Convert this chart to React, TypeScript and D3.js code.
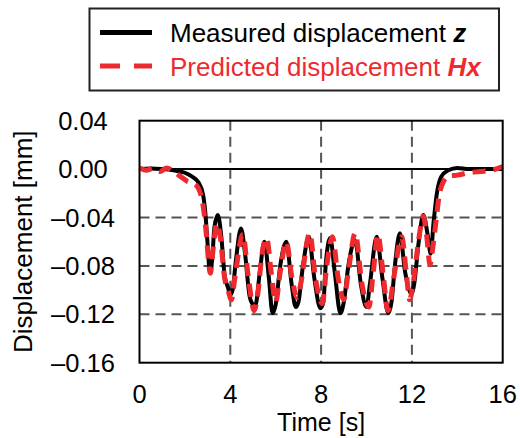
import React from "react";
import * as d3 from "d3";

const measuredT = [0, 0.5, 1.0, 1.5, 2.0, 2.3, 2.6, 2.8, 2.9, 3.0, 3.1, 3.2, 3.3, 3.45, 3.6, 3.75, 3.9, 4.0, 4.1, 4.25, 4.47, 4.65, 4.85, 5.0, 5.1, 5.3, 5.5, 5.7, 5.86, 6.0, 6.2, 6.47, 6.7, 6.88, 7.0, 7.2, 7.46, 7.7, 7.97, 8.1, 8.2, 8.4, 8.6, 8.85, 9.0, 9.2, 9.5, 9.75, 10.0, 10.15, 10.45, 10.7, 10.96, 11.1, 11.25, 11.47, 11.7, 11.98, 12.1, 12.3, 12.5, 12.7, 12.83, 12.95, 13.1, 13.3, 13.6, 14.0, 14.5, 15.0, 16.0];
const measuredV = [0.0, 0.0005, 0.0, -0.001, -0.003, -0.006, -0.011, -0.021, -0.036, -0.062, -0.085, -0.075, -0.048, -0.038, -0.055, -0.088, -0.098, -0.104, -0.1, -0.075, -0.049, -0.07, -0.105, -0.112, -0.113, -0.085, -0.06, -0.09, -0.119, -0.112, -0.08, -0.06, -0.095, -0.114, -0.11, -0.08, -0.056, -0.09, -0.115, -0.11, -0.08, -0.057, -0.085, -0.119, -0.11, -0.08, -0.059, -0.095, -0.114, -0.095, -0.056, -0.09, -0.119, -0.11, -0.08, -0.053, -0.085, -0.103, -0.095, -0.06, -0.038, -0.055, -0.07, -0.045, -0.02, -0.006, -0.001, 0.001, 0.0, 0.0, 0.0];

const predictedT = [0, 0.3, 0.6, 0.9, 1.2, 1.5, 1.8, 2.1, 2.4, 2.6, 2.8, 2.95, 3.05, 3.12, 3.25, 3.4, 3.55, 3.75, 3.9, 4.05, 4.2, 4.55, 4.8, 5.05, 5.2, 5.4, 5.6, 5.8, 6.0, 6.2, 6.47, 6.7, 6.95, 7.1, 7.5, 7.75, 8.05, 8.25, 8.5, 8.75, 9.0, 9.2, 9.5, 9.8, 10.1, 10.3, 10.5, 10.75, 10.95, 11.2, 11.55, 11.75, 11.9, 12.05, 12.3, 12.5, 12.65, 12.8, 12.92, 13.05, 13.2, 13.4, 13.6, 14.0, 14.5, 15.0, 15.5, 16.0];
const predictedV = [0.001, -0.001, 0.0005, -0.002, 0.001, -0.002, -0.006, -0.01, -0.012, -0.016, -0.03, -0.055, -0.078, -0.086, -0.065, -0.045, -0.055, -0.09, -0.1, -0.108, -0.09, -0.054, -0.09, -0.117, -0.105, -0.07, -0.057, -0.085, -0.11, -0.085, -0.06, -0.088, -0.106, -0.095, -0.053, -0.09, -0.111, -0.08, -0.056, -0.09, -0.108, -0.085, -0.053, -0.095, -0.114, -0.085, -0.054, -0.09, -0.117, -0.09, -0.056, -0.085, -0.108, -0.095, -0.058, -0.039, -0.055, -0.079, -0.065, -0.045, -0.022, -0.01, -0.006, -0.005, -0.003, -0.002, -0.001, 0.002];

const xTicks = [0, 4, 8, 12, 16];
const yTicks = [0.04, 0.0, -0.04, -0.08, -0.12, -0.16];
const xGrid = [4, 8, 12];
const yGrid = [-0.04, -0.08, -0.12];

const legendLabels = ["Measured displacement ", "Predicted displacement "];
const legendSymbols = ["z", "Hx"];

const FONT = "'Liberation Sans', Arial, sans-serif";

export default function App() {
  const W = 520, H = 438;
  const L = 139.5, R = 502.7, T = 120.7, B = 362.7;
  const x = d3.scaleLinear().domain([0, 16]).range([L, R]);
  const y = d3.scaleLinear().domain([-0.16, 0.04]).range([B, T]);

  const line = d3
    .line<[number, number]>()
    .x((d) => x(d[0]))
    .y((d) => y(d[1]))
    .curve(d3.curveMonotoneX);

  const measured = line(measuredT.map((t, i) => [t, measuredV[i]] as [number, number])) || "";
  const predicted = line(predictedT.map((t, i) => [t, predictedV[i]] as [number, number])) || "";

  const fmtY = (v: number) => (v < 0 ? "\u2013" : "") + Math.abs(v).toFixed(2);

  return (
    <svg width={W} height={H} style={{ position: "absolute", left: 0, top: 0 }} fontFamily={FONT}>
      <rect x={0} y={0} width={W} height={H} fill="#fff" />
      {/* legend */}
      <rect x={89.5} y={8.5} width={409.5} height={82} fill="#fff" stroke="#222" strokeWidth={2} />
      <line x1={100} x2={152} y1={32.5} y2={32.5} stroke="#000" strokeWidth={5} />
      <line x1={100} x2={152} y1={66} y2={66} stroke="#ee2a2f" strokeWidth={5} strokeDasharray="20,14" />
      <text x={170} y={42} fontSize={26} fill="#000">
        {legendLabels[0]}
        <tspan fontWeight="bold" fontStyle="italic">{legendSymbols[0]}</tspan>
      </text>
      <text x={170} y={75.5} fontSize={26} fill="#ee2a2f">
        {legendLabels[1]}
        <tspan fontWeight="bold" fontStyle="italic">{legendSymbols[1]}</tspan>
      </text>

      {/* grid */}
      {xGrid.map((t) => (
        <line key={"gx" + t} x1={x(t)} x2={x(t)} y1={T} y2={B} stroke="#555" strokeWidth={2} strokeDasharray="10,6" />
      ))}
      {yGrid.map((v) => (
        <line key={"gy" + v} x1={L} x2={R} y1={y(v)} y2={y(v)} stroke="#555" strokeWidth={2} strokeDasharray="10,6" />
      ))}
      <line x1={L} x2={R} y1={y(0)} y2={y(0)} stroke="#000" strokeWidth={2} />

      {/* series */}
      <path d={measured} fill="none" stroke="#000" strokeWidth={4} strokeLinejoin="round" />
      <path d={predicted} fill="none" stroke="#ee2a2f" strokeWidth={5} strokeDasharray="13,8" strokeLinejoin="round" />

      {/* frame */}
      <rect x={L} y={T} width={R - L} height={B - T} fill="none" stroke="#000" strokeWidth={2} />

      {/* y ticks */}
      {yTicks.map((v) => (
        <text key={"yt" + v} x={83} y={y(v) + 9} fontSize={25.5} textAnchor="middle" fill="#000">
          {fmtY(v)}
        </text>
      ))}
      {/* x ticks */}
      {xTicks.map((t) => (
        <text key={"xt" + t} x={x(t)} y={403} fontSize={25.5} textAnchor="middle" fill="#000">
          {t}
        </text>
      ))}
      <text x={(L + R) / 2} y={431} fontSize={25} textAnchor="middle" fill="#000">
        Time [s]
      </text>
      <text transform={`translate(31.5, ${(T + B) / 2}) rotate(-90)`} fontSize={26} textAnchor="middle" fill="#000">
        Displacement [mm]
      </text>
    </svg>
  );
}
